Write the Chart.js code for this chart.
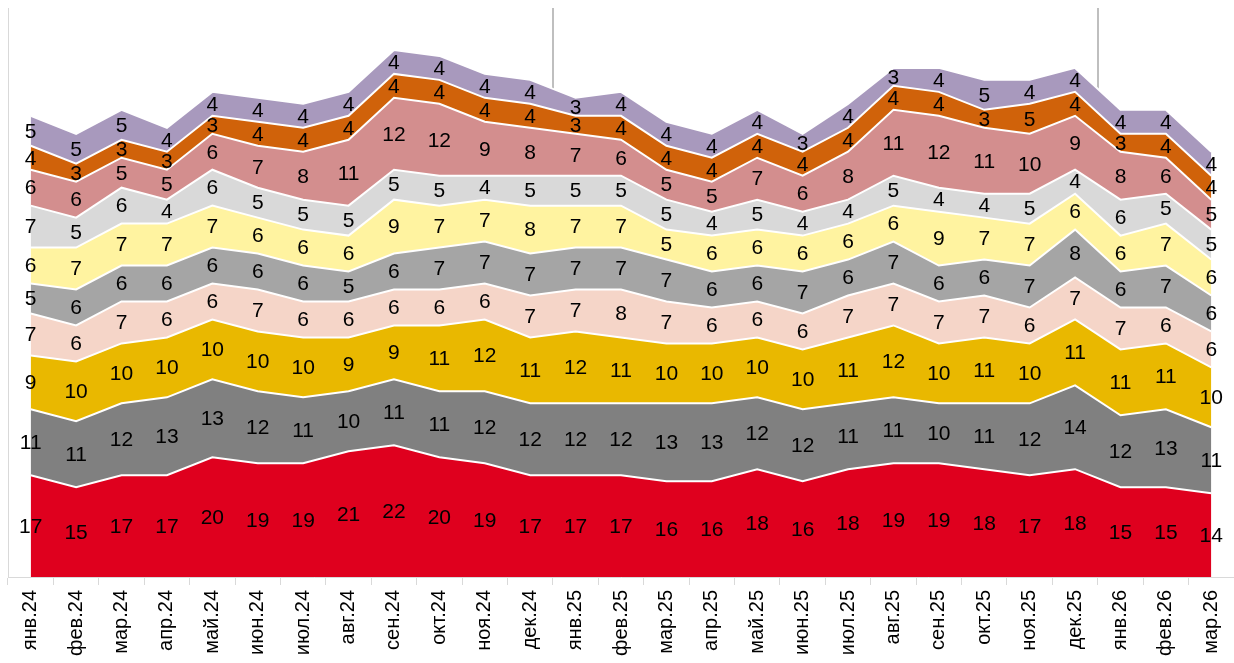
<!DOCTYPE html>
<html>
<head>
<meta charset="utf-8">
<script src="https://cdn.jsdelivr.net/npm/chart.js@4"></script>
<style>
  html, body { margin: 0; padding: 0; background: #fff; }
  #wrap { width: 1234px; height: 663px; position: relative; }
</style>
</head>
<body>
<div id="wrap"><canvas id="chart"></canvas></div>
<script>
// --- Data ---
const months = ['янв.24', 'фев.24', 'мар.24', 'апр.24', 'май.24', 'июн.24', 'июл.24', 'авг.24', 'сен.24',
  'окт.24', 'ноя.24', 'дек.24', 'янв.25', 'фев.25', 'мар.25', 'апр.25', 'май.25', 'июн.25', 'июл.25',
  'авг.25', 'сен.25', 'окт.25', 'ноя.25', 'дек.25', 'янв.26', 'фев.26', 'мар.26'];

// series, bottom to top
const s1 = [17, 15, 17, 17, 20, 19, 19, 21, 22, 20, 19, 17, 17, 17, 16, 16, 18, 16, 18, 19, 19, 18, 17, 18, 15, 15, 14];
const s2 = [11, 11, 12, 13, 13, 12, 11, 10, 11, 11, 12, 12, 12, 12, 13, 13, 12, 12, 11, 11, 10, 11, 12, 14, 12, 13, 11];
const s3 = [9, 10, 10, 10, 10, 10, 10, 9, 9, 11, 12, 11, 12, 11, 10, 10, 10, 10, 11, 12, 10, 11, 10, 11, 11, 11, 10];
const s4 = [7, 6, 7, 6, 6, 7, 6, 6, 6, 6, 6, 7, 7, 8, 7, 6, 6, 6, 7, 7, 7, 7, 6, 7, 7, 6, 6];
const s5 = [5, 6, 6, 6, 6, 6, 6, 5, 6, 7, 7, 7, 7, 7, 7, 6, 6, 7, 6, 7, 6, 6, 7, 8, 6, 7, 6];
const s6 = [6, 7, 7, 7, 7, 6, 6, 6, 9, 7, 7, 8, 7, 7, 5, 6, 6, 6, 6, 6, 9, 7, 7, 6, 6, 7, 6];
const s7 = [7, 5, 6, 4, 6, 5, 5, 5, 5, 5, 4, 5, 5, 5, 5, 4, 5, 4, 4, 5, 4, 4, 5, 4, 6, 5, 5];
const s8 = [6, 6, 5, 5, 6, 7, 8, 11, 12, 12, 9, 8, 7, 6, 5, 5, 7, 6, 8, 11, 12, 11, 10, 9, 8, 6, 5];
const s9 = [4, 3, 3, 3, 3, 4, 4, 4, 4, 4, 4, 4, 3, 4, 4, 4, 4, 4, 4, 4, 4, 3, 5, 4, 3, 4, 4];
const s10 = [5, 5, 5, 4, 4, 4, 4, 4, 4, 4, 4, 4, 3, 4, 4, 4, 4, 3, 4, 3, 4, 5, 4, 4, 4, 4, 4];

const series = [s1, s2, s3, s4, s5, s6, s7, s8, s9, s10];
const colors = ['#DF001E', '#808080', '#E9B800', '#F5D5C8', '#A5A5A5',
  '#FFF3A0', '#D9D9D9', '#D38E8E', '#D0620A', '#A899BD'];

// year separators: after дек.24 and дек.25
const separatorsAfter = [11, 23];

const FONT = "'Liberation Sans', Arial, sans-serif";

// --- Plugins ---
const separatorPlugin = {
  id: 'separators',
  beforeDatasetsDraw(chart) {
    const { ctx, chartArea, scales } = chart;
    ctx.save();
    ctx.strokeStyle = '#BFBFBF';
    ctx.lineWidth = 2;
    separatorsAfter.forEach(i => {
      const x = Math.round((scales.x.getPixelForValue(i) + scales.x.getPixelForValue(i + 1)) / 2);
      ctx.beginPath();
      ctx.moveTo(x, chartArea.top);
      ctx.lineTo(x, chartArea.bottom);
      ctx.stroke();
    });
    ctx.restore();
  }
};

const bandLabels = {
  id: 'bandLabels',
  afterDatasetsDraw(chart) {
    const { ctx, scales } = chart;
    const base = scales.y.getPixelForValue(0);
    ctx.save();
    ctx.font = '21px ' + FONT;
    ctx.fillStyle = '#000';
    ctx.textAlign = 'center';
    ctx.textBaseline = 'middle';
    series.forEach((vals, i) => {
      const meta = chart.getDatasetMeta(i);
      const below = i > 0 ? chart.getDatasetMeta(i - 1) : null;
      meta.data.forEach((pt, j) => {
        const bottom = below ? below.data[j].y : base;
        ctx.fillText(String(vals[j]), pt.x, (pt.y + bottom) / 2 + 1);
      });
    });
    ctx.restore();
  }
};

new Chart(document.getElementById('chart'), {
  type: 'line',
  data: {
    labels: months,
    datasets: series.map((vals, i) => ({
      data: vals,
      backgroundColor: colors[i],
      borderColor: '#FFFFFF',
      borderWidth: 2,
      pointRadius: 0,
      tension: 0,
      fill: i === 0 ? 'origin' : '-1'
    }))
  },
  options: {
    responsive: true,
    maintainAspectRatio: false,
    animation: false,
    layout: { padding: { top: 8, right: 0, left: 0, bottom: 0 } },
    plugins: {
      legend: { display: false },
      tooltip: { enabled: false }
    },
    scales: {
      x: {
        offset: true,
        grid: { offset: true, drawOnChartArea: false, tickLength: 8, color: '#D9D9D9' },
        border: { color: '#D9D9D9', width: 1 },
        ticks: {
          autoSkip: false,
          minRotation: 90,
          maxRotation: 90,
          padding: 5,
          color: '#000',
          font: { family: FONT, size: 20 }
        },
        afterFit(scale) {
          scale.height = 86;
          scale.paddingLeft = 0;
          scale.paddingRight = 0;
        }
      },
      y: {
        stacked: true,
        min: 0,
        max: 95,
        grid: { display: false },
        border: { color: '#D9D9D9', width: 1 },
        ticks: { display: false },
        afterFit(scale) { scale.width = 8; }
      }
    }
  },
  plugins: [separatorPlugin, bandLabels]
});
</script>
</body>
</html>
